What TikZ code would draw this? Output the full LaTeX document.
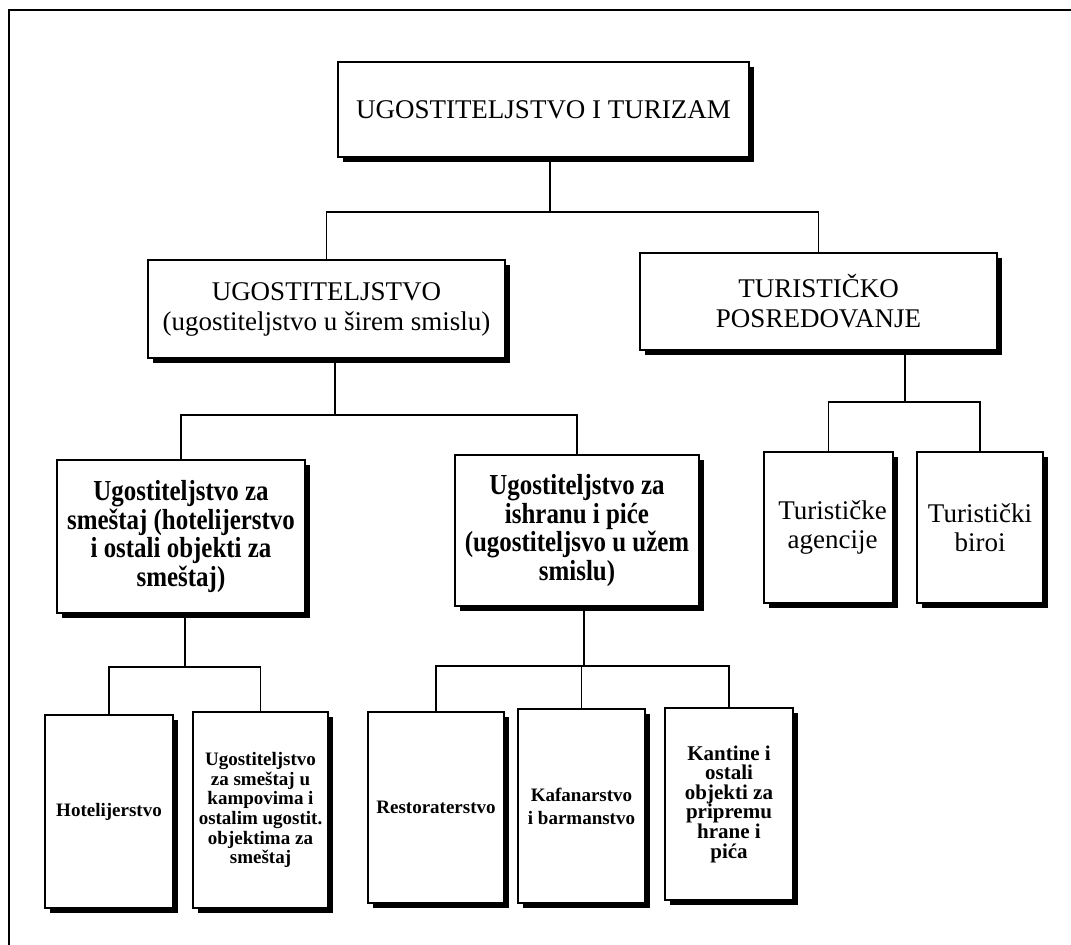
\documentclass[tikz,border=0pt]{standalone}
\usepackage{fontspec}
\setmainfont{Liberation Serif}
% narrower cut of the serif, set larger, for the tall bold box labels
\newfontfamily\tallserif[FakeStretch=0.86]{Liberation Serif}
\usetikzlibrary{shadows}
\begin{document}
\begin{tikzpicture}[x=1pt,y=-1pt,
  box/.style={draw, line width=1.8pt, fill=white, inner sep=0pt, align=center,
    drop shadow={shadow xshift=5pt, shadow yshift=-5pt, fill=black, opacity=1}},
  link/.style={line width=1.6pt},
  ftop/.style={font=\fontsize{27}{30}\selectfont},
  fmid/.style={font=\tallserif\bfseries\fontsize{29}{28.5}\selectfont},
  fagency/.style={font=\fontsize{27}{28.5}\selectfont},
  fsmall/.style={font=\bfseries\fontsize{19}{19.7}\selectfont},
  fsmallwide/.style={font=\bfseries\fontsize{19}{23}\selectfont},
  fcanteen/.style={font=\bfseries\fontsize{21}{19.6}\selectfont}]
\useasboundingbox (0,0) rectangle (1071,945);
\fill[white] (0,0) rectangle (1071,945);

% page frame (open at the right and bottom)
\draw[line width=2.5pt] (9,945) -- (9,10) -- (1071,10);

% level 1
\node[box, ftop, minimum width=411pt, minimum height=95pt] (A) at (543.5,109.5)
  {UGOSTITELJSTVO I TURIZAM};

% level 2
\node[box, ftop, minimum width=357pt, minimum height=98pt] (B) at (326.5,309)
  {UGOSTITELJSTVO\\(ugostiteljstvo u širem smislu)};
\node[box, ftop, minimum width=357pt, minimum height=97pt] (C) at (818.5,301.5)
  {TURISTIČKO\\POSREDOVANJE};

% level 3
\node[box, fmid, minimum width=248pt, minimum height=153pt] (D) at (181,536.5)
  {Ugostiteljstvo za\\smeštaj (hotelijerstvo\\i ostali objekti za\\smeštaj)};
\node[box, fmid, minimum width=244pt, minimum height=151pt] (E) at (577,530.5)
  {Ugostiteljstvo za\\ishranu i piće\\(ugostiteljsvo u užem\\smislu)};
\node[box, fagency, minimum width=129pt, minimum height=151pt] (F) at (828.5,527.5)
  {\hspace*{8pt}Turističke\\\hspace*{8pt}agencije};
\node[box, fagency, minimum width=126pt, minimum height=151pt] (G) at (980,527.5)
  {Turistički\\biroi};

% level 4
\node[box, fsmall, minimum width=128pt, minimum height=193pt] (H) at (109,811.5)
  {Hotelijerstvo};
\node[box, fsmall, minimum width=135pt, minimum height=196pt] (I) at (260.5,810)
  {Ugostiteljstvo\\za smeštaj u\\kampovima i\\ostalim ugostit.\\objektima za\\smeštaj};
\node[box, fsmall, minimum width=136pt, minimum height=191pt] (J) at (436,807.5)
  {Restoraterstvo};
\node[box, fsmallwide, minimum width=127pt, minimum height=194pt] (K) at (581.5,806)
  {Kafanarstvo\\i barmanstvo};
\node[box, fcanteen, minimum width=128pt, minimum height=192pt] (L) at (729,804)
  {Kantine i\\ostali\\objekti za\\pripremu\\hrane i\\pića};

% connectors
\coordinate (j1) at (550,212);
\draw[link] (A.south -| j1) -- (j1);
\draw[link] (B.north) |- (j1) -| (C.north);

\coordinate (j2) at (335,415);
\draw[link] (B.south -| j2) -- (j2);
\draw[link] (D.north) |- (j2) -| (E.north);

\coordinate (j3) at (905,402);
\draw[link] (C.south -| j3) -- (j3);
\draw[link] (F.north) |- (j3) -| (G.north);

\coordinate (j4) at (185,667);
\draw[link] (D.south -| j4) -- (j4);
\draw[link] (H.north) |- (j4) -| (I.north);

\coordinate (j5) at (584,666);
\draw[link] (E.south -| j5) -- (j5);
\draw[link] (J.north) |- (j5) -| (L.north);
\draw[link] (K.north) -- (K.north |- j5);
\end{tikzpicture}
\end{document}
